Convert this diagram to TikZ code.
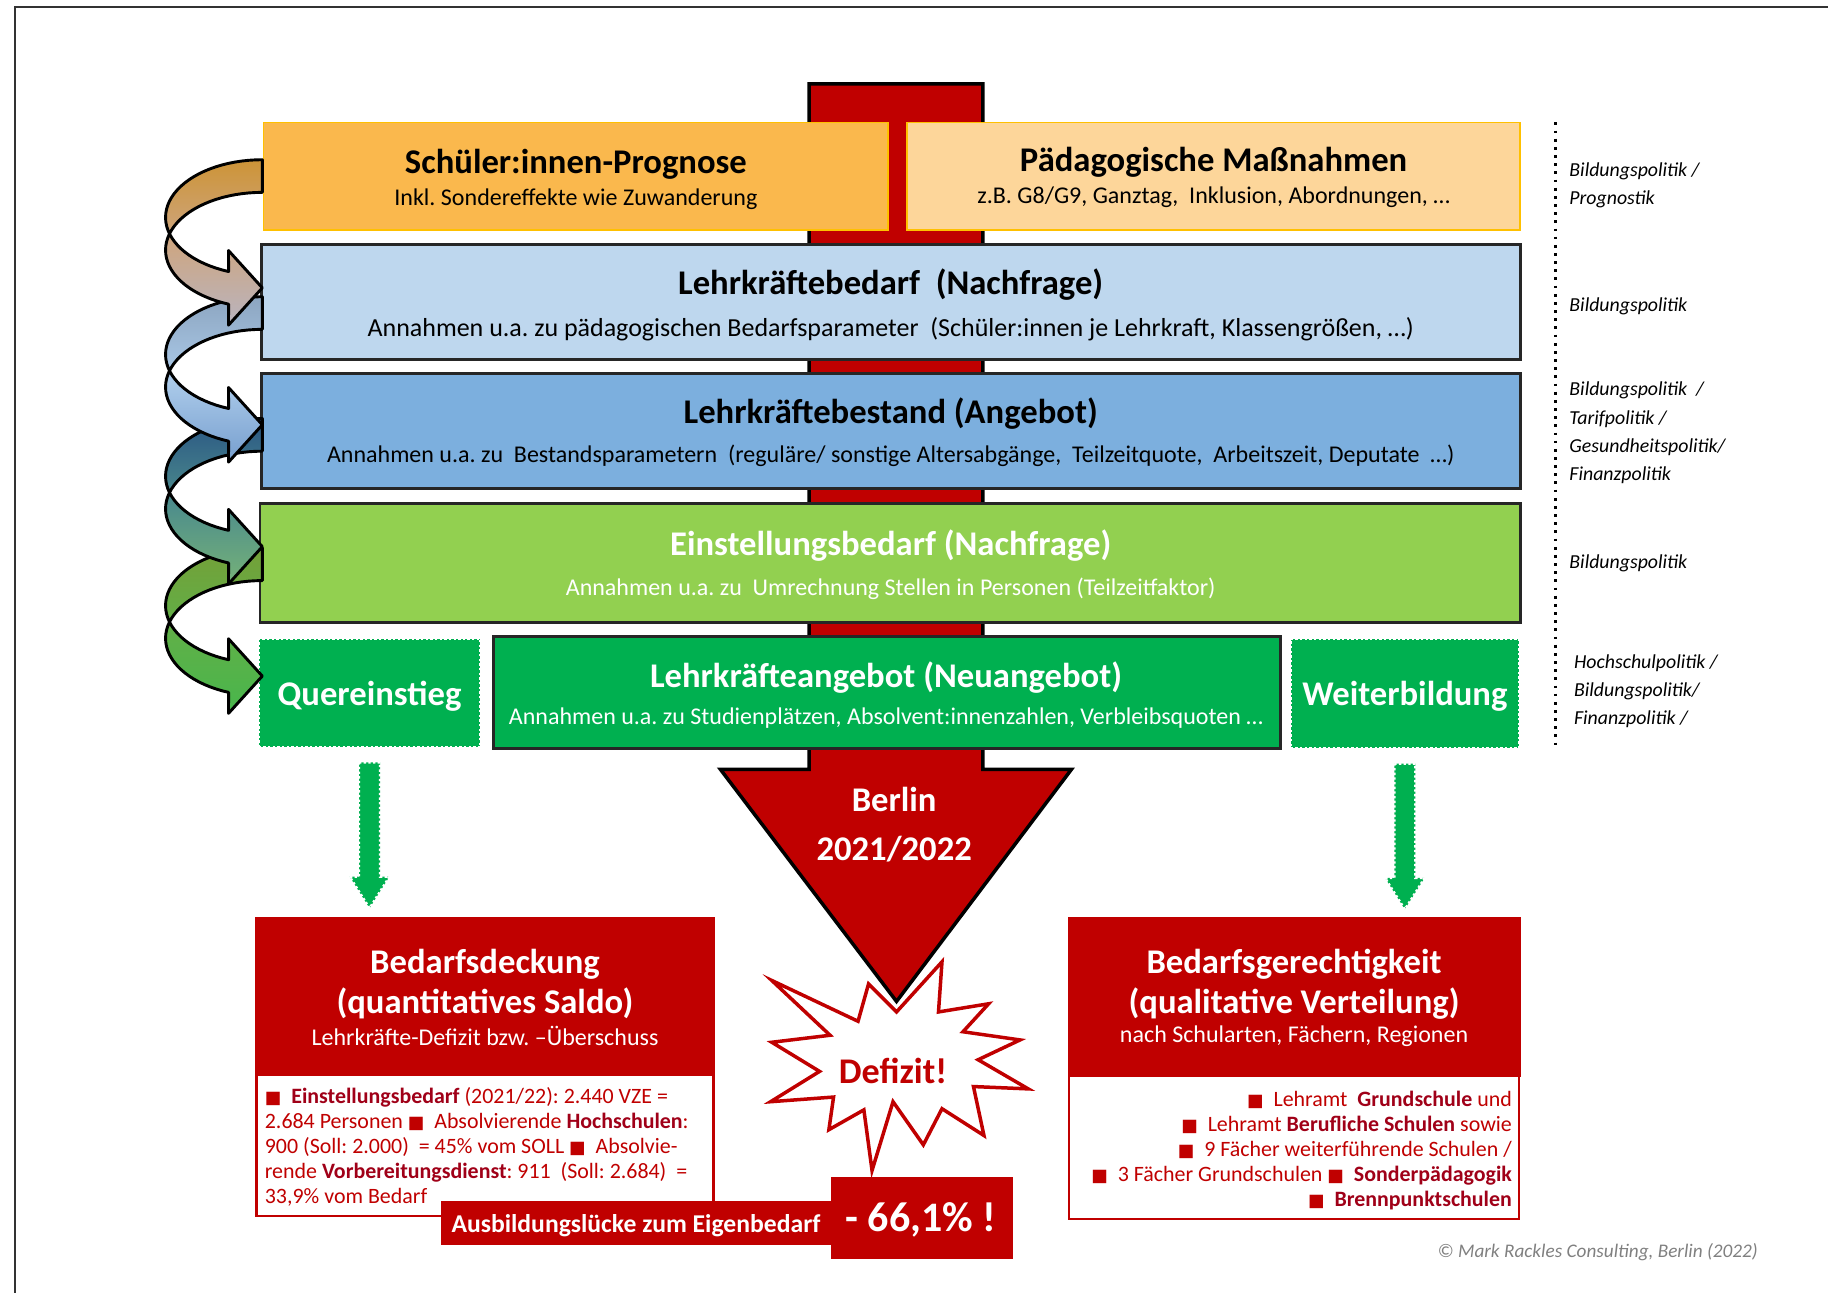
\documentclass[tikz,border=0pt]{standalone}
\usepackage{fontspec}
\setmainfont{Carlito}
\newfontfamily\symfont{DejaVu Sans}[Scale=0.8]
\usetikzlibrary{calc}
\frenchspacing

\definecolor{rot}{RGB}{192,0,0}
\definecolor{dunkelrot}{RGB}{160,0,24}
\definecolor{orangeA}{RGB}{250,184,77}
\definecolor{orangeB}{RGB}{253,214,154}
\definecolor{gold}{RGB}{255,192,0}
\definecolor{blauA}{RGB}{190,215,238}
\definecolor{blauB}{RGB}{124,175,222}
\definecolor{gruenA}{RGB}{146,208,80}
\definecolor{gruenB}{RGB}{0,176,80}
\definecolor{grau}{RGB}{128,128,128}
\definecolor{pfA1}{RGB}{205,148,55}
\definecolor{pfB1}{RGB}{205,166,130}
\definecolor{pfC1}{RGB}{185,180,192}
\definecolor{pfA2}{RGB}{140,165,192}
\definecolor{pfB2}{RGB}{172,203,234}
\definecolor{pfC2}{RGB}{118,158,206}
\definecolor{pfA3}{RGB}{42,86,132}
\definecolor{pfB3}{RGB}{76,140,140}
\definecolor{pfC3}{RGB}{118,178,120}
\definecolor{pfA4}{RGB}{116,160,56}
\definecolor{pfB4}{RGB}{96,176,72}
\definecolor{pfC4}{RGB}{72,182,76}

\newcommand{\sq}{{\symfont ■}}

\tikzset{
  box/.style={draw=black!85, line width=2.5pt, inner sep=0pt},
  ttl/.style={font=\fontsize{29.7}{34}\selectfont\bfseries},
  sub/.style={font=\fontsize{20.6}{24}\selectfont},
  sidelabel/.style={font=\fontsize{17}{24.3}\selectfont\itshape, align=left, anchor=west, inner sep=0pt},
  lst/.style={font=\fontsize{18.8}{21.4}\selectfont, text=rot, inner sep=0pt},
  dotbox/.style={draw=white, line width=2pt, dash pattern=on 2pt off 2pt},
  curvarrow/.style={draw=black, line width=2.5pt, line join=round},
}

\begin{document}
\begin{tikzpicture}[x=1pt, y=-1pt]
      \useasboundingbox (0,0) rectangle (1568,1109);
      \draw [line width=1.5pt, black!80] (13,1109) -- (13,6) -- (1568,6);

      \draw [fill=rot, line width=3pt] (694,72) -- (843,72) -- (843,660) -- (919,660) -- (769,859) -- (618,660) -- (694,660) -- cycle;
      \node [ttl, text=white] (berlin) at (767,686) {Berlin};
      \node [ttl, text=white] (jahr) at (767,728) {2021/2022};

      \node [box, draw=gold, line width=1.5pt, fill=orangeA, minimum width=536, minimum height=92] (prognose) at (494,151) {};
      \node [ttl] (prognose-t) at (494,141) {Schüler:innen-Prognose};
      \node [sub] (prognose-s) at (494,171) {Inkl. Sondereffekte wie Zuwanderung};

      \node [box, draw=gold, line width=1.5pt, fill=orangeB, minimum width=526, minimum height=92] (massnahmen) at (1041,151) {};
      \node [ttl] (massnahmen-t) at (1041,139) {Pädagogische Maßnahmen};
      \node [sub] (massnahmen-s) at (1041,169) {z.B. G8/G9, Ganztag,~ Inklusion, Abordnungen, …};

      \node [box, fill=blauA, minimum width=1080, minimum height=98] (bedarf) at (764,259) {};
      \node [ttl] (bedarf-t) at (764,244) {Lehrkräftebedarf~ (Nachfrage)};
      \node [sub, font=\fontsize{22.3}{26}\selectfont] (bedarf-s) at (764,282) {Annahmen u.a. zu pädagogischen Bedarfsparameter~ (Schüler:innen je Lehrkraft, Klassengrößen, …)};

      \node [box, fill=blauB, minimum width=1080, minimum height=99] (bestand) at (764,369.5) {};
      \node [ttl] (bestand-t) at (764,355) {Lehrkräftebestand (Angebot)};
      \node [sub] (bestand-s) at (764,391) {Annahmen u.a. zu~ Bestandsparametern~ (reguläre/ sonstige Altersabgänge,~ Teilzeitquote,~ Arbeitszeit, Deputate~ …)};

      \node [box, fill=gruenA, minimum width=1081, minimum height=102] (einstellung) at (763.5,483) {};
      \node [ttl, text=white] (einstellung-t) at (764,468) {Einstellungsbedarf (Nachfrage)};
      \node [sub, text=white] (einstellung-s) at (764,505) {Annahmen u.a. zu~ Umrechnung Stellen in Personen (Teilzeitfaktor)};

      \node [box, dotbox, fill=gruenB, minimum width=190, minimum height=93] (quer) at (317,594.5) {};
      \node [ttl, text=white] (quer-t) at (317,597) {Quereinstieg};

      \node [box, fill=gruenB, minimum width=675, minimum height=96] (angebot) at (760.5,594) {};
      \node [ttl, text=white] (angebot-t) at (760,581) {Lehrkräfteangebot (Neuangebot)};
      \node [sub, text=white] (angebot-s) at (760,616) {Annahmen u.a. zu Studienplätzen, Absolvent:innenzahlen, Verbleibsquoten …};

      \node [box, dotbox, fill=gruenB, minimum width=196, minimum height=94] (weiter) at (1205,595) {};
      \node [ttl, text=white] (weiter-t) at (1205,597) {Weiterbildung};

      \foreach \ty/\ca/\cb/\cc in {470/pfA4/pfB4/pfC4, 359/pfA3/pfB3/pfC3, 254.5/pfA2/pfB2/pfC2, 137/pfA1/pfB1/pfC1} {
        \pgfmathsetmacro{\ya}{\ty+49.5}
        \pgfmathsetmacro{\yb}{\ya+28}
        \pgfmathsetmacro{\ha}{\ya+46.4}
        \pgfmathsetmacro{\hb}{\yb+46.4}
        \draw [curvarrow, top color=\ca, bottom color=\cc, middle color=\cb]
          plot [domain=270:110.4, samples=40] ({225+83*cos(\x)}, {\ya+49.5*sin(\x)})
          -- (196,\ha-18) -- (225,\ha+14) -- (196,\hb+18)
          -- plot [domain=110.4:270, samples=40] ({225+83*cos(\x)}, {\yb+49.5*sin(\x)})
          -- cycle;
      }

      \draw [line width=2.4pt, dash pattern=on 2.4pt off 4.6pt] (1334,105) -- (1334,643);
      \node [sidelabel] (pol1) at (1346,159) {Bildungspolitik /\\Prognostik};
      \node [sidelabel] (pol2) at (1346,263) {Bildungspolitik};
      \node [sidelabel] (pol3) at (1346,371.5) {Bildungspolitik~ /\\Tarifpolitik /\\Gesundheitspolitik/\\Finanzpolitik};
      \node [sidelabel] (pol4) at (1346,483) {Bildungspolitik};
      \node [sidelabel] (pol5) at (1350,593) {Hochschulpolitik /\\Bildungspolitik/\\Finanzpolitik /};

      \node [draw=rot, fill=rot, minimum width=394, minimum height=136, inner sep=0pt] (deckung) at (416,855) {};
      \node [ttl, text=white] (deckung-t) at (416,827) {Bedarfsdeckung};
      \node [ttl, text=white] (deckung-u) at (416,861) {(quantitatives Saldo)};
      \node [sub, text=white] (deckung-s) at (416,889) {Lehrkräfte-Defizit bzw. –Überschuss};
      \node [draw=rot, line width=2pt, fill=white, minimum width=392, minimum height=121, inner sep=0pt] (deckliste) at (416,982.5) {};
      \node [lst, anchor=north west, align=left] (deckliste-t) at (227,933) {\sq~ {\bfseries\color{dunkelrot}Einstellungsbedarf} (2021/22): 2.440 VZE =\\2.684 Personen \sq~ Absolvierende {\bfseries\color{dunkelrot}Hochschulen}:\\900 (Soll: 2.000)~ = 45\% vom SOLL \sq~ Absolvie-\\rende {\bfseries\color{dunkelrot}Vorbereitungsdienst}: 911~ (Soll: 2.684)~ =\\33,9\% vom Bedarf};

      \node [draw=rot, fill=rot, minimum width=388, minimum height=136, inner sep=0pt] (gerecht) at (1110,855) {};
      \node [ttl, text=white] (gerecht-t) at (1110,827) {Bedarfsgerechtigkeit};
      \node [ttl, text=white] (gerecht-u) at (1110,861) {(qualitative Verteilung)};
      \node [sub, text=white] (gerecht-s) at (1110,889) {nach Schularten, Fächern, Regionen};
      \node [draw=rot, line width=2pt, fill=white, minimum width=386, minimum height=123, inner sep=0pt] (gerechtliste) at (1110,984) {};
      \node [lst, anchor=north east, align=right] (gerechtliste-t) at (1297,936) {\sq~ Lehramt~ {\bfseries\color{dunkelrot}Grundschule} und\\\sq~ Lehramt {\bfseries\color{dunkelrot}Berufliche Schulen} sowie\\\sq~ 9 Fächer weiterführende Schulen /\\\sq~ 3 Fächer Grundschulen \sq~ {\bfseries\color{dunkelrot}Sonderpädagogik}\\\sq~ {\bfseries\color{dunkelrot}Brennpunktschulen}};

      \foreach \b in {quer, weiter} {
        \draw [dotbox, fill=gruenB] ($(\b.south)+(-9,12)$) -- ($(\b.south)+(9,12)$) -- ($(\b.south)+(9,110)$) -- ($(\b.south)+(17,110)$) -- ($(\b.south)+(0,137)$) -- ($(\b.south)+(-17,110)$) -- ($(\b.south)+(-9,110)$) -- cycle;
      }

      \draw [draw=rot, fill=white, line width=3pt] (662,841) -- (736,876) -- (745,844) -- (769,868) -- (808,825) -- (805,868) -- (848,861) -- (826,885) -- (875,892) -- (839,909) -- (882,934) -- (835,932) -- (844,974) -- (808,951) -- (792,982) -- (766,945) -- (748,1004) -- (741,952) -- (711,969) -- (715,941) -- (661,945) -- (703,919) -- (662,894) -- (712,888) -- cycle;
      \node [font=\fontsize{31}{36}\selectfont\bfseries, text=rot] (defizit) at (766,919) {Defizit!};

      \node [fill=rot, minimum width=335, minimum height=38, inner sep=0pt] (luecke) at (545.5,1049) {};
      \node [font=\fontsize{22}{26}\selectfont\bfseries, text=white] (luecke-t) at (545.5,1051) {Ausbildungslücke zum Eigenbedarf};
      \node [fill=rot, minimum width=156, minimum height=70, inner sep=0pt] (quote) at (791,1045) {};
      \node [font=\fontsize{36}{40}\selectfont\bfseries, text=white] (quote-t) at (790,1046) {- 66,1\% !};

      \node [font=\fontsize{16.5}{20}\selectfont\itshape, text=grau, anchor=east, inner sep=0pt] (copy) at (1508,1074) {© Mark Rackles Consulting, Berlin (2022)};
    \end{tikzpicture}
\end{document}
